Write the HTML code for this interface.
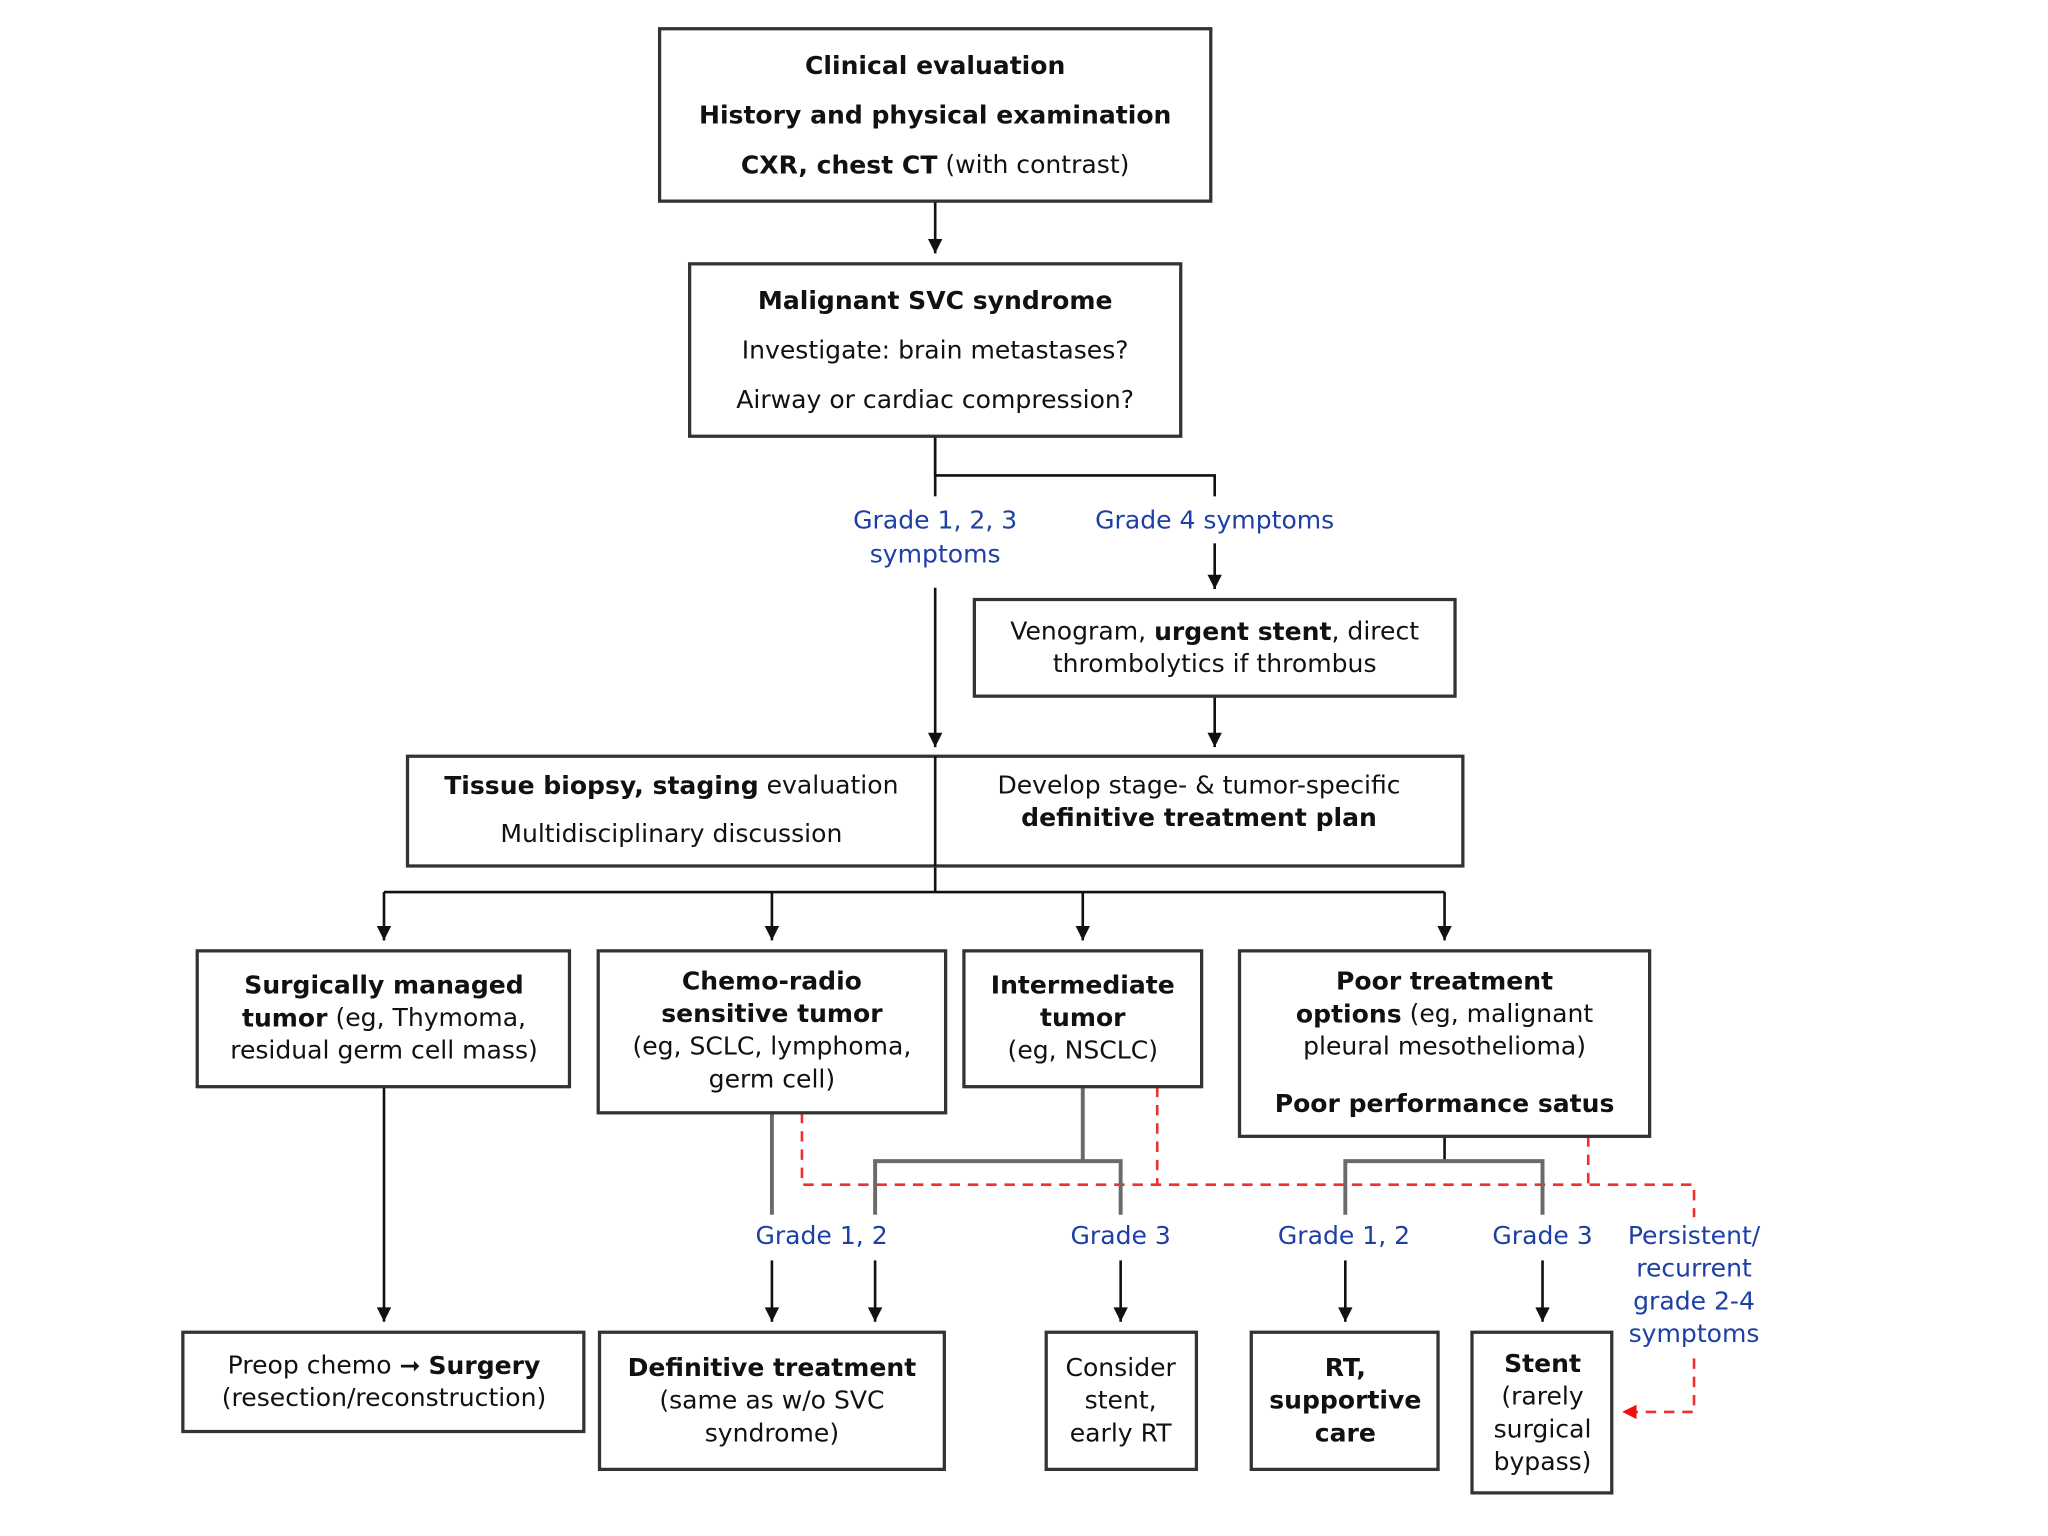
<!DOCTYPE html>
<html><head><meta charset="utf-8"><style>
html,body{margin:0;padding:0;background:#fff;}
svg{display:block;}
text{font-family:"DejaVu Sans","Liberation Sans",sans-serif;font-size:19.2px;fill:#111;text-anchor:middle;dominant-baseline:central;}
.b{font-weight:bold;}
.bl{fill:#1d3fa6;}
.box{fill:#fff;stroke:#333;stroke-width:2.5;}
.ln{stroke:#111;stroke-width:2;fill:none;}
.gl{stroke:#6a6a6a;stroke-width:3;fill:none;}
.rd{stroke:#f03030;stroke-width:2;fill:none;stroke-dasharray:8 6;}
</style></head><body>
<svg width="2048" height="1536" viewBox="0 0 1568 1176" preserveAspectRatio="none" xmlns="http://www.w3.org/2000/svg">
<defs>
<marker id="a" viewBox="0 0 10 10" refX="10" refY="5" markerWidth="14" markerHeight="11" markerUnits="userSpaceOnUse" orient="auto"><path d="M0,0L10,5L0,10z" fill="#111"/></marker>
<marker id="ar" viewBox="0 0 10 10" refX="10" refY="5" markerWidth="14" markerHeight="11" markerUnits="userSpaceOnUse" orient="auto"><path d="M0,0L10,5L0,10z" fill="#f01010"/></marker>
</defs>

<!-- connectors -->
<line class="ln" x1="716" y1="154" x2="716" y2="194" style="marker-end:url(#a)"/>
<polyline class="ln" points="716,334 716,364 930,364 930,380"/>
<line class="ln" x1="716" y1="334" x2="716" y2="380"/>
<line class="ln" x1="930" y1="416" x2="930" y2="451" style="marker-end:url(#a)"/>
<line class="ln" x1="716" y1="450" x2="716" y2="572" style="marker-end:url(#a)"/>
<line class="ln" x1="930" y1="533" x2="930" y2="572" style="marker-end:url(#a)"/>
<line class="ln" x1="716" y1="663" x2="716" y2="683"/>
<line class="ln" x1="294" y1="683" x2="1106" y2="683"/>
<line class="ln" x1="294" y1="683" x2="294" y2="720" style="marker-end:url(#a)"/>
<line class="ln" x1="591" y1="683" x2="591" y2="720" style="marker-end:url(#a)"/>
<line class="ln" x1="829" y1="683" x2="829" y2="720" style="marker-end:url(#a)"/>
<line class="ln" x1="1106" y1="683" x2="1106" y2="720" style="marker-end:url(#a)"/>
<line class="ln" x1="294" y1="832" x2="294" y2="1012" style="marker-end:url(#a)"/>

<!-- red dashed -->
<polyline class="rd" points="614,852 614,907 1297,907 1297,932"/>
<line class="rd" x1="886" y1="832" x2="886" y2="907"/>
<line class="rd" x1="1216" y1="870" x2="1216" y2="907"/>
<polyline class="rd" points="1297,1040 1297,1081 1242,1081" style="marker-end:url(#ar)"/>

<!-- gray -->
<line class="gl" x1="591" y1="852" x2="591" y2="930"/>
<polyline class="gl" points="829,832 829,889"/>
<polyline class="gl" points="670,930 670,889 858,889 858,930"/>
<line class="ln" x1="1106" y1="870" x2="1106" y2="889"/>
<polyline class="gl" points="1030,930 1030,889 1181,889 1181,930"/>
<line class="ln" x1="591" y1="965" x2="591" y2="1012" style="marker-end:url(#a)"/>
<line class="ln" x1="670" y1="965" x2="670" y2="1012" style="marker-end:url(#a)"/>
<line class="ln" x1="858" y1="965" x2="858" y2="1012" style="marker-end:url(#a)"/>
<line class="ln" x1="1030" y1="965" x2="1030" y2="1012" style="marker-end:url(#a)"/>
<line class="ln" x1="1181" y1="965" x2="1181" y2="1012" style="marker-end:url(#a)"/>

<!-- boxes -->
<rect class="box" x="505" y="22" width="422" height="132"/>
<text x="716" y="50" class="b">Clinical evaluation</text>
<text x="716" y="88" class="b">History and physical examination</text>
<text x="716" y="126"><tspan class="b">CXR, chest CT</tspan> (with contrast)</text>

<rect class="box" x="528" y="202" width="376" height="132"/>
<text x="716" y="230" class="b">Malignant SVC syndrome</text>
<text x="716" y="268">Investigate: brain metastases?</text>
<text x="716" y="306">Airway or cardiac compression?</text>

<text x="716" y="398" class="bl">Grade 1, 2, 3</text>
<text x="716" y="424" class="bl">symptoms</text>
<text x="930" y="398" class="bl">Grade 4 symptoms</text>

<rect class="box" x="746" y="459" width="368" height="74"/>
<text x="930" y="483">Venogram, <tspan class="b">urgent stent</tspan>, direct</text>
<text x="930" y="508">thrombolytics if thrombus</text>

<rect class="box" x="312" y="579" width="808" height="84"/>
<line class="ln" x1="716" y1="579" x2="716" y2="663"/>
<text x="514" y="601"><tspan class="b">Tissue biopsy, staging</tspan> evaluation</text>
<text x="514" y="638">Multidisciplinary discussion</text>
<text x="918" y="601">Develop stage- &amp; tumor-specific</text>
<text x="918" y="626" class="b">definitive treatment plan</text>

<rect class="box" x="151" y="728" width="285" height="104"/>
<text x="294" y="754" class="b">Surgically managed</text>
<text x="294" y="779"><tspan class="b">tumor</tspan> (eg, Thymoma,</text>
<text x="294" y="804">residual germ cell mass)</text>

<rect class="box" x="458" y="728" width="266" height="124"/>
<text x="591" y="751" class="b">Chemo-radio</text>
<text x="591" y="776" class="b">sensitive tumor</text>
<text x="591" y="801">(eg, SCLC, lymphoma,</text>
<text x="591" y="826">germ cell)</text>

<rect class="box" x="738" y="728" width="182" height="104"/>
<text x="829" y="754" class="b">Intermediate</text>
<text x="829" y="779" class="b">tumor</text>
<text x="829" y="804">(eg, NSCLC)</text>

<rect class="box" x="949" y="728" width="314" height="142"/>
<text x="1106" y="751" class="b">Poor treatment</text>
<text x="1106" y="776"><tspan class="b">options</tspan> (eg, malignant</text>
<text x="1106" y="801">pleural mesothelioma)</text>
<text x="1106" y="845" class="b">Poor performance satus</text>

<text x="629" y="946" class="bl">Grade 1, 2</text>
<text x="858" y="946" class="bl">Grade 3</text>
<text x="1029" y="946" class="bl">Grade 1, 2</text>
<text x="1181" y="946" class="bl">Grade 3</text>
<text x="1297" y="946" class="bl">Persistent/</text>
<text x="1297" y="971" class="bl">recurrent</text>
<text x="1297" y="996" class="bl">grade 2-4</text>
<text x="1297" y="1021" class="bl">symptoms</text>

<rect class="box" x="140" y="1020" width="307" height="76"/>
<text x="294" y="1045">Preop chemo <tspan class="b">➞</tspan> <tspan class="b">Surgery</tspan></text>
<text x="294" y="1070">(resection/reconstruction)</text>

<rect class="box" x="459" y="1020" width="264" height="105"/>
<text x="591" y="1047" class="b">Definitive treatment</text>
<text x="591" y="1072">(same as w/o SVC</text>
<text x="591" y="1097">syndrome)</text>

<rect class="box" x="801" y="1020" width="115" height="105"/>
<text x="858" y="1047">Consider</text>
<text x="858" y="1072">stent,</text>
<text x="858" y="1097">early RT</text>

<rect class="box" x="958" y="1020" width="143" height="105"/>
<text x="1030" y="1047" class="b">RT,</text>
<text x="1030" y="1072" class="b">supportive</text>
<text x="1030" y="1097" class="b">care</text>

<rect class="box" x="1127" y="1020" width="107" height="123"/>
<text x="1181" y="1044" class="b">Stent</text>
<text x="1181" y="1069">(rarely</text>
<text x="1181" y="1094">surgical</text>
<text x="1181" y="1119">bypass)</text>
</svg>
</body></html>
